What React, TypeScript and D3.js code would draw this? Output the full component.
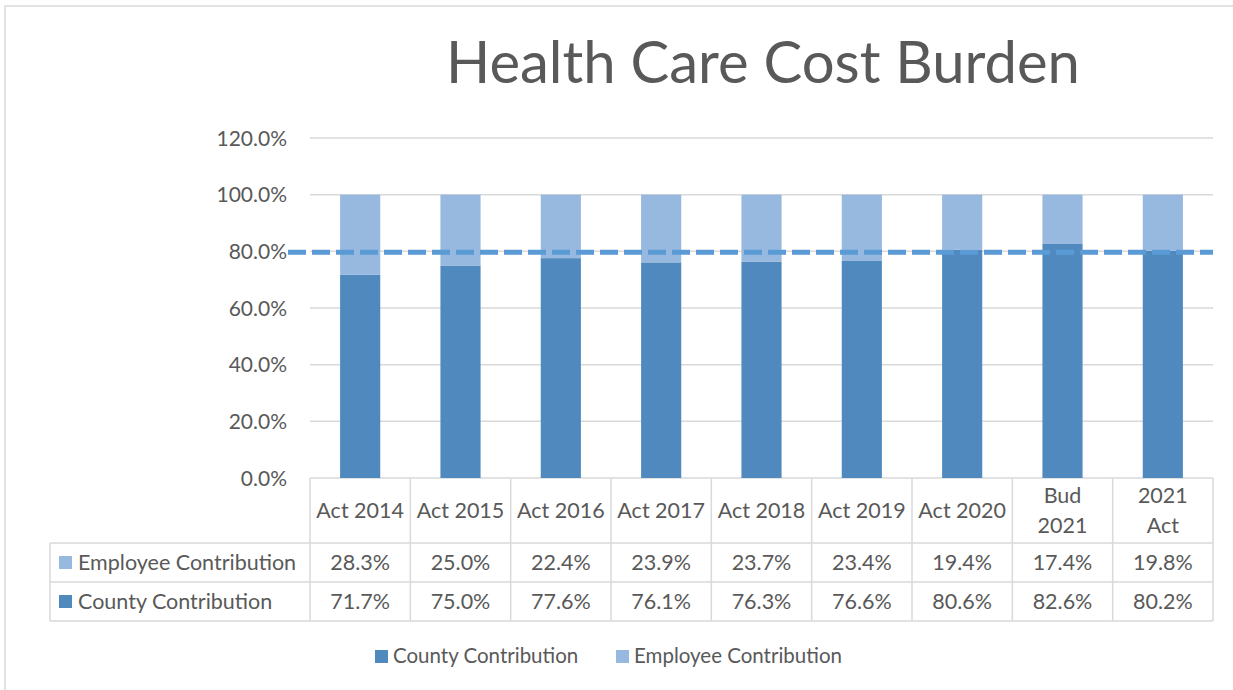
import React from "react";
import * as d3 from "d3";

const categories = ["Act 2014", "Act 2015", "Act 2016", "Act 2017", "Act 2018", "Act 2019", "Act 2020", "Bud 2021", "2021 Act"];
const categoryLines = [["Act 2014"], ["Act 2015"], ["Act 2016"], ["Act 2017"], ["Act 2018"], ["Act 2019"], ["Act 2020"], ["Bud", "2021"], ["2021", "Act"]];
const countyContribution = [71.7, 75.0, 77.6, 76.1, 76.3, 76.6, 80.6, 82.6, 80.2];
const employeeContribution = [28.3, 25.0, 22.4, 23.9, 23.7, 23.4, 19.4, 17.4, 19.8];
const targetLine = 80;
const yTicks = [0, 20, 40, 60, 80, 100, 120];
const title = "Health Care Cost Burden";

const COUNTY = "#4F89BD";
const EMPLOYEE = "#97B8DF";
const DASH = "#5B9BD5";
const GRID = "#D9D9D9";
const TEXT = "#595959";
const FONT = "Lato, 'Open Sans', sans-serif";

export default function App() {
  const W = 1233, H = 690;
  const left = 310, right = 1213, top = 138, bottom = 478;
  const x = d3.scaleBand<string>().domain(categories).range([left, right]).paddingInner(0.6).paddingOuter(0.3);
  const col = d3.scaleBand<string>().domain(categories).range([left, right]);
  const y = d3.scaleLinear().domain([0, 120]).range([bottom, top]);
  const rowTop = bottom, row1 = 543, row2 = 582, row3 = 621, tableLeft = 50;
  const fmt = (v: number) => v.toFixed(1) + "%";
  const tfs = 21.5;

  return (
    <svg width={W} height={H} style={{ position: "absolute", left: 0, top: 0, background: "#fff" }} fontFamily={FONT}>
      <rect x={5} y={6} width={W} height={H} fill="#fff" stroke={GRID} strokeWidth={1.5} />
      <text x={763} y={83} textAnchor="middle" fontSize={58} fill={TEXT}>{title}</text>

      {yTicks.map((t) => (
        <g key={t}>
          <line x1={left} x2={right} y1={y(t)} y2={y(t)} stroke={GRID} strokeWidth={1.5} />
          <text x={287} y={y(t)} dy="0.36em" textAnchor="end" fontSize={21} fill={TEXT}>{fmt(t)}</text>
        </g>
      ))}

      {categories.map((c, i) => (
        <g key={c}>
          <rect x={x(c)} y={y(countyContribution[i])} width={x.bandwidth()} height={y(0) - y(countyContribution[i])} fill={COUNTY} />
          <rect x={x(c)} y={y(countyContribution[i] + employeeContribution[i])} width={x.bandwidth()} height={y(0) - y(employeeContribution[i])} fill={EMPLOYEE} />
        </g>
      ))}

      <line x1={288} x2={right} y1={y(targetLine) + 1} y2={y(targetLine) + 1} stroke={DASH} strokeWidth={5} strokeDasharray="18 6" />

      {/* data table */}
      <g stroke={GRID} strokeWidth={1.5}>
        <line x1={tableLeft} x2={right} y1={row1} y2={row1} />
        <line x1={tableLeft} x2={right} y1={row2} y2={row2} />
        <line x1={tableLeft} x2={right} y1={row3} y2={row3} />
        <line x1={tableLeft} x2={tableLeft} y1={row1} y2={row3} />
        {categories.map((c) => (
          <line key={c} x1={col(c)} x2={col(c)} y1={rowTop} y2={row3} />
        ))}
        <line x1={right} x2={right} y1={rowTop} y2={row3} />
      </g>

      {categories.map((c, i) => {
        const cx = (col(c) as number) + col.bandwidth() / 2;
        const lines = categoryLines[i];
        const mid = (rowTop + row1) / 2;
        return (
          <g key={c} fontSize={tfs} fill={TEXT} textAnchor="middle">
            {lines.map((l, j) => (
              <text key={j} x={cx} y={mid + (j - (lines.length - 1) / 2) * 30} dy="0.36em">{l}</text>
            ))}
            <text x={cx} y={(row1 + row2) / 2} dy="0.36em">{fmt(employeeContribution[i])}</text>
            <text x={cx} y={(row2 + row3) / 2} dy="0.36em">{fmt(countyContribution[i])}</text>
          </g>
        );
      })}

      <rect x={59} y={556} width={13} height={13} fill={EMPLOYEE} />
      <text x={78} y={(row1 + row2) / 2} dy="0.36em" fontSize={tfs} fill={TEXT}>Employee Contribution</text>
      <rect x={59} y={595} width={13} height={13} fill={COUNTY} />
      <text x={78} y={(row2 + row3) / 2} dy="0.36em" fontSize={tfs} fill={TEXT}>County Contribution</text>

      {/* legend */}
      <rect x={375} y={650} width={13} height={13} fill={COUNTY} />
      <text x={393} y={656} dy="0.36em" fontSize={20.5} fill={TEXT}>County Contribution</text>
      <rect x={616} y={650} width={13} height={13} fill={EMPLOYEE} />
      <text x={634} y={656} dy="0.36em" fontSize={20.5} fill={TEXT}>Employee Contribution</text>
    </svg>
  );
}
